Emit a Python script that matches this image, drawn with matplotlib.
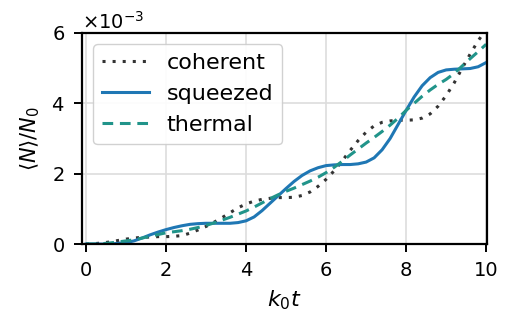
import numpy as np
import matplotlib
matplotlib.use("Agg")
import matplotlib.pyplot as plt

t = [0.0, 0.2, 0.4, 0.6, 0.8, 1.0, 1.2, 1.4, 1.6, 1.8, 2.0, 2.2, 2.4, 2.6, 2.8, 3.0,
     3.2, 3.4, 3.6, 3.8, 4.0, 4.2, 4.4, 4.6, 4.8, 5.0, 5.2, 5.4, 5.6, 5.8, 6.0, 6.2,
     6.4, 6.6, 6.8, 7.0, 7.2, 7.4, 7.6, 7.8, 8.0, 8.2, 8.4, 8.6, 8.8, 9.0, 9.2, 9.4,
     9.6, 9.8, 10.0]

# values in units of 1e-3
coherent = [0.00, 0.01, 0.03, 0.06, 0.10, 0.14, 0.17, 0.19, 0.20, 0.21, 0.21, 0.22,
            0.24, 0.31, 0.40, 0.50, 0.62, 0.75, 0.89, 1.03, 1.14, 1.22, 1.27, 1.30,
            1.32, 1.32, 1.33, 1.38, 1.48, 1.64, 1.84, 2.08, 2.36, 2.66, 2.94, 3.18,
            3.36, 3.46, 3.50, 3.52, 3.52, 3.53, 3.58, 3.70, 3.92, 4.22, 4.58, 5.00,
            5.40, 5.78, 6.10]

squeezed = [0.00, 0.00, 0.00, 0.00, 0.02, 0.04, 0.09, 0.17, 0.26, 0.34, 0.41, 0.47,
            0.52, 0.56, 0.58, 0.59, 0.59, 0.59, 0.59, 0.61, 0.66, 0.77, 0.95, 1.16,
            1.37, 1.58, 1.78, 1.95, 2.08, 2.17, 2.23, 2.25, 2.26, 2.26, 2.28, 2.33,
            2.45, 2.68, 3.00, 3.40, 3.80, 4.18, 4.50, 4.73, 4.88, 4.95, 4.97, 4.98,
            4.99, 5.04, 5.16]

thermal = [0.00, 0.00, 0.01, 0.03, 0.06, 0.09, 0.12, 0.17, 0.22, 0.27, 0.32, 0.35,
           0.38, 0.42, 0.47, 0.53, 0.60, 0.68, 0.76, 0.85, 0.94, 1.05, 1.17, 1.29,
           1.40, 1.50, 1.59, 1.69, 1.79, 1.90, 2.03, 2.18, 2.35, 2.53, 2.70, 2.87,
           3.03, 3.20, 3.38, 3.58, 3.80, 4.00, 4.20, 4.38, 4.54, 4.68, 4.85, 5.06,
           5.27, 5.47, 5.68]

labels = ["coherent", "squeezed", "thermal"]
scale = 1e-3

plt.rcParams['font.family'] = ['DejaVu Sans']
plt.rcParams['font.size'] = 14

fig = plt.figure(figsize=(5.08, 3.19), dpi=100)
ax = fig.add_axes([0.1614, 0.235, 0.7972, 0.6616])

tt = np.array(t)
ax.plot(tt, np.array(coherent) * scale, linestyle=(0, (1, 2.3)), color='#333333', lw=2.2,
        label=labels[0])
ax.plot(tt, np.array(squeezed) * scale, linestyle='-', color='#1f77b4', lw=2.2,
        label=labels[1])
ax.plot(tt, np.array(thermal) * scale, linestyle=(0, (3.5, 2.2)), color='#21948a', lw=2.2,
        label=labels[2])

ax.set_xlim(-0.1, 10.02)
ax.set_ylim(0, 6e-3)
ax.set_xticks([0, 2, 4, 6, 8, 10])
ax.set_yticks([0, 2e-3, 4e-3, 6e-3])
ax.ticklabel_format(axis='y', style='sci', scilimits=(0, 0), useMathText=True)
ax.yaxis.get_offset_text().set_fontsize(14)
ax.grid(True, color='#dddddd', lw=1.2)
ax.set_axisbelow(True)
for s in ax.spines.values():
    s.set_linewidth(1.6)
ax.tick_params(width=1.4, length=5.5, labelsize=14, pad=7)
ax.set_xlabel(r'$k_0t$', fontsize=16, labelpad=6)
ax.set_ylabel(r'$\langle N\rangle/N_0$', fontsize=15, labelpad=7)
ax.legend(loc='upper left', handlelength=2.1, framealpha=0.9, edgecolor='#cccccc',
          borderaxespad=0.5, fontsize=16)

fig.savefig('out.png', dpi=100)
